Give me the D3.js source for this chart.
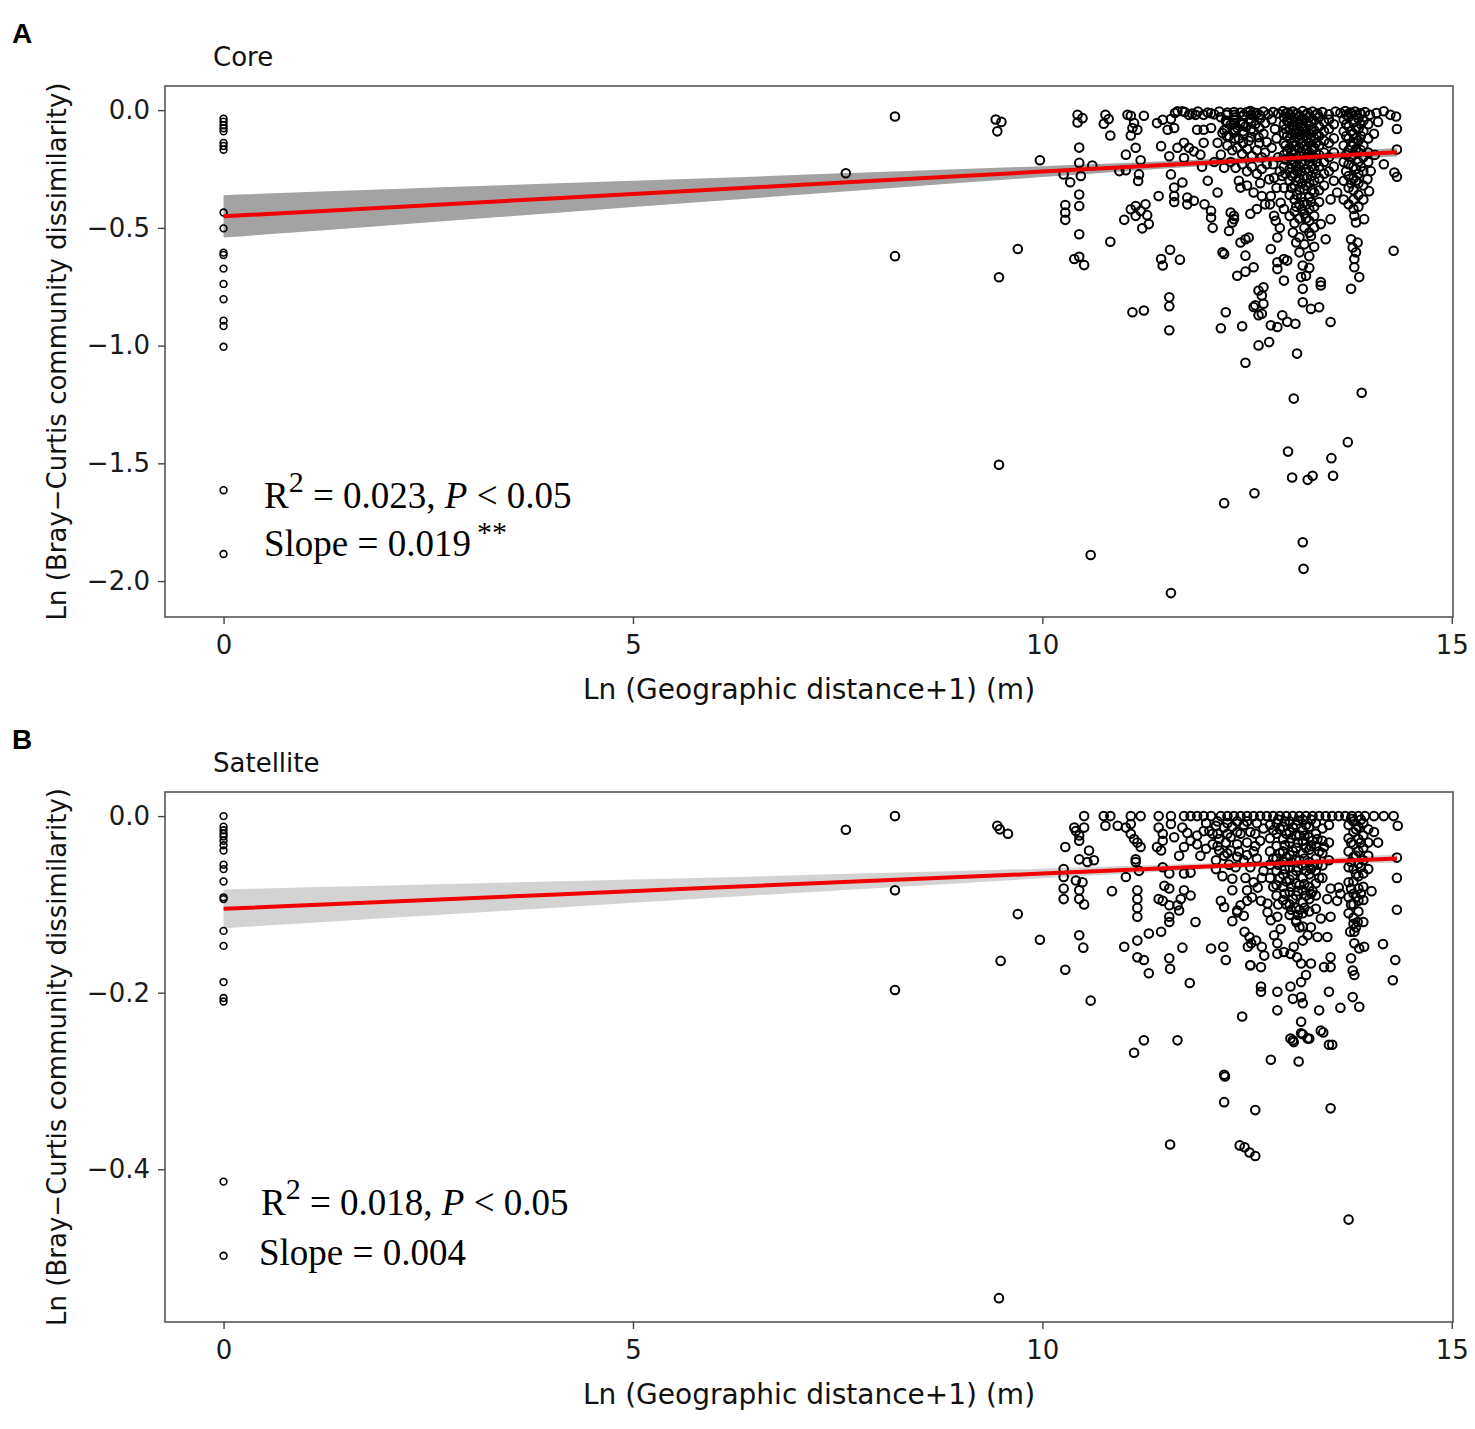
<!DOCTYPE html>
<html>
<head>
<meta charset="utf-8">
<script src="https://cdn.jsdelivr.net/npm/d3@7"></script>
<style>
  body { margin: 0; background: #fff; }
  svg { display: block; }
</style>
</head>
<body>
<div id="chart"></div>
<script>
// axis ticks
const xTicks = [0, 5, 10, 15];
const coreYTicks = [0, -0.5, -1.0, -1.5, -2.0];
const satYTicks = [0, -0.2, -0.4];

// fitted line + confidence band
const fitX = [0, 2, 4, 6, 8, 10, 12, 14.33];
const coreFit = [-0.451, -0.413, -0.375, -0.337, -0.299, -0.261, -0.223, -0.179];
const coreLower = [-0.541, -0.490, -0.438, -0.386, -0.335, -0.284, -0.237, -0.197];
const coreUpper = [-0.361, -0.336, -0.312, -0.288, -0.263, -0.238, -0.209, -0.161];
const satFit = [-0.105, -0.097, -0.089, -0.081, -0.073, -0.065, -0.057, -0.048];
const satLower = [-0.127, -0.1155, -0.104, -0.0925, -0.0815, -0.0705, -0.0605, -0.0525];
const satUpper = [-0.083, -0.0785, -0.074, -0.0695, -0.0645, -0.0595, -0.0535, -0.0435];

// Core: [ln distance, ln dissimilarity]
const corePoints = [
  [0,-0.036],[0,-0.049],[0,-0.064],[0,-0.077],[0,-0.090],[0,-0.139],[0,-0.152],[0,-0.168],
  [0,-0.435],[0,-0.502],[0,-0.605],[0,-0.615],[0,-0.673],[0,-0.738],[0,-0.803],[0,-0.894],
  [0,-0.917],[0,-1.005],[0,-1.614],[0,-1.885],
  [7.6,-0.268],[8.2,-0.027],[8.2,-0.62],
  [9.43,-0.04],[9.5,-0.05],[9.45,-0.09],[9.47,-0.71],[9.47,-1.506],[9.7,-0.59],[9.97,-0.213],
  [10.43,-0.02],[10.49,-0.034],[10.43,-0.052],[10.45,-0.159],[10.45,-0.224],[10.26,-0.273],[10.34,-0.306],
  [10.47,-0.28],[10.61,-0.235],[10.45,-0.358],[10.45,-0.407],[10.28,-0.403],[10.28,-0.435],[10.28,-0.466],
  [10.45,-0.527],[10.39,-0.632],[10.45,-0.623],[10.51,-0.658],[10.83,-0.559],[10.59,-1.889],
  [10.77,-0.02],[10.81,-0.038],[10.75,-0.058],[10.83,-0.108],
  [11.04,-0.02],[11.08,-0.024],[11.24,-0.024],[11.12,-0.055],[11.16,-0.083],[11.08,-0.108],[11.1,-0.076],
  [11.14,-0.16],[11.02,-0.189],[11.2,-0.213],[10.94,-0.259],[11.02,-0.255],[11.18,-0.273],[11.17,-0.301],
  [11.0,-0.466],[11.08,-0.421],[11.14,-0.407],[11.2,-0.428],[11.26,-0.4],[11.28,-0.446],[11.3,-0.484],
  [11.22,-0.502],[11.14,-0.449],[11.1,-0.858],[11.24,-0.851],
  [11.55,-0.795],[11.55,-0.833],[11.55,-0.935],[11.45,-0.632],[11.47,-0.66],[11.56,-0.593],[11.68,-0.635],
  [11.42,-0.365],[11.57,-0.273],[11.45,-0.153],[11.4,-0.055],[11.47,-0.041],[11.57,-0.038],[11.61,-0.076],
  [11.53,-0.083],[11.55,-0.196],[11.61,-0.329],[11.61,-0.365],[11.71,-0.307],[11.61,-0.39],[11.77,-0.371],
  [11.85,-0.385],[11.77,-0.4],[11.57,-2.051],
  [11.65,-0.005],[11.71,-0.005],[11.79,-0.02],[11.87,-0.02],[11.97,-0.02],[12.06,-0.013],[11.65,-0.16],
  [11.73,-0.139],[11.79,-0.16],[11.73,-0.203],[11.85,-0.175],[11.93,-0.189],[11.97,-0.139],[11.89,-0.083],
  [11.97,-0.083],[12.06,-0.076],
  [11.95,-0.24],[12.02,-0.3],[12.1,-0.22],[12.14,-0.35],[11.98,-0.4],[12.08,-0.5],
  [12.06,-0.456],[12.06,-0.428],[12.2,-0.604],[12.22,-0.611],[12.24,-0.858],[12.18,-0.926],[12.44,-0.918],
  [12.28,-0.513],[12.3,-0.435],[12.34,-0.463],[12.42,-0.562],[12.48,-0.548],[12.52,-0.541],[12.48,-0.618],
  [12.38,-0.703],[12.48,-0.686],[12.58,-0.667],[12.64,-0.766],[12.58,-0.836],[12.64,-0.871],[12.64,-0.999],
  [12.14,-0.139],[12.18,-0.189],[12.22,-0.245],[12.2,-0.097],[12.26,-0.055],[12.34,-0.041],[12.38,-0.076],
  [12.26,-0.01],[12.34,-0.008],[12.42,-0.01],[12.5,-0.008],[12.58,-0.01],[12.34,-0.449],[12.32,-0.477],
  [12.42,-0.329],[12.22,-1.669],[12.48,-1.073],[12.59,-1.627],
  [12.7,-0.752],[12.68,-0.787],[12.6,-0.829],[12.7,-0.822],[12.68,-0.865],[12.79,-0.914],[12.87,-0.921],
  [12.93,-0.871],[12.99,-0.899],[13.09,-0.907],[12.77,-0.985],[13.11,-1.034],[13.18,-0.816],[13.28,-0.844],
  [13.38,-0.837],[13.52,-0.9],[13.4,-0.73],[13.4,-0.745],[13.18,-0.759],[12.95,-0.724],[12.87,-0.675],
  [12.87,-0.646],[12.95,-0.632],[12.99,-0.639],[12.79,-0.59],[12.87,-0.541],[13.14,-0.604],[13.18,-0.66],
  [13.22,-0.703],[13.16,-0.709],[13.06,-0.52],[13.1,-0.562],[13.28,-0.534],[13.32,-0.498],[13.4,-0.484],
  [13.46,-0.548],[13.52,-0.463],[13.52,-0.379],[13.6,-0.35],[12.83,-0.449],[12.85,-0.47],[12.91,-0.393],
  [12.79,-0.365],[12.68,-0.365],[12.93,-0.28],[12.83,-0.287],[12.77,-0.294],
  [13.81,-0.449],[13.83,-0.477],[13.93,-0.463],[13.77,-0.548],[13.85,-0.562],[13.79,-0.583],[13.83,-0.604],
  [13.81,-0.632],[13.81,-0.667],[13.87,-0.709],[13.77,-0.759],[13.99,-0.344],[13.97,-0.294],[14.01,-0.259],
  [14.17,-0.005],[14.25,-0.02],[14.32,-0.027],[14.33,-0.08],[14.33,-0.167],[14.17,-0.23],[14.3,-0.265],
  [14.33,-0.283],[14.29,-0.597],
  [13.07,-1.225],[13.9,-1.2],[13.73,-1.41],[13.0,-1.45],[13.53,-1.478],[13.05,-1.56],[13.24,-1.57],
  [13.3,-1.553],[13.55,-1.553],[13.18,-1.835],[13.19,-1.948],
  // top row
  [11.62,-0.012],[11.74,-0.008],[11.83,-0.015],[11.9,-0.006],[12.02,-0.01],[12.1,-0.018],[12.16,-0.006],
  [12.46,-0.02],[12.54,-0.004],[12.62,-0.012],[12.7,-0.006],[12.76,-0.018],[12.82,-0.008],[12.88,-0.014],
  [12.94,-0.004],[13.0,-0.01],[13.06,-0.006],[13.12,-0.016],[13.18,-0.004],[13.24,-0.012],[13.3,-0.006],
  [13.36,-0.014],[13.42,-0.008],[13.5,-0.018],[13.58,-0.006],[13.64,-0.012],[13.7,-0.004],[13.76,-0.01],
  [13.82,-0.006],[13.88,-0.014],[13.94,-0.008],[14.0,-0.02],[14.08,-0.012],
  // dense block around 12.2-12.75
  [12.18,-0.03],[12.24,-0.045],[12.3,-0.062],[12.36,-0.03],[12.42,-0.052],[12.48,-0.07],[12.54,-0.038],
  [12.6,-0.06],[12.66,-0.035],[12.72,-0.055],[12.22,-0.085],[12.28,-0.11],[12.34,-0.095],[12.4,-0.12],
  [12.46,-0.1],[12.52,-0.13],[12.58,-0.09],[12.64,-0.115],[12.7,-0.1],[12.74,-0.135],[12.26,-0.15],
  [12.32,-0.17],[12.38,-0.16],[12.44,-0.185],[12.5,-0.165],[12.56,-0.195],[12.62,-0.17],[12.68,-0.2],
  [12.72,-0.18],[12.3,-0.22],[12.36,-0.245],[12.44,-0.23],[12.5,-0.26],[12.56,-0.24],[12.62,-0.27],
  [12.68,-0.25],[12.74,-0.23],[12.4,-0.3],[12.5,-0.32],[12.58,-0.35],[12.66,-0.31],[12.72,-0.4],
  [12.62,-0.42],[12.54,-0.44],
  [12.25,-0.02],[12.25,-0.05],[12.25,-0.08],[12.25,-0.11],[12.35,-0.02],[12.35,-0.055],[12.35,-0.085],
  [12.35,-0.12],[12.45,-0.025],[12.45,-0.06],[12.45,-0.09],[12.45,-0.14],[12.55,-0.02],[12.55,-0.05],
  [12.55,-0.08],[12.55,-0.115],[12.65,-0.02],[12.65,-0.075],[12.65,-0.14],
  [12.8,-0.04],[12.84,-0.08],[12.86,-0.12],[12.8,-0.16],[12.88,-0.2],[12.82,-0.23],[12.9,-0.26],
  [12.86,-0.33],[12.78,-0.4],[12.9,-0.5],
  // darkest block around 12.95-13.55
  [12.95,-0.03],[12.95,-0.06],[12.95,-0.1],[12.95,-0.14],[12.95,-0.19],[12.95,-0.24],[12.95,-0.33],[12.95,-0.42],
  [13.02,-0.02],[13.02,-0.05],[13.02,-0.08],[13.02,-0.12],[13.02,-0.16],[13.02,-0.2],[13.02,-0.25],[13.02,-0.3],
  [13.02,-0.36],[13.02,-0.45],
  [13.08,-0.035],[13.08,-0.07],[13.08,-0.1],[13.08,-0.135],[13.08,-0.17],[13.08,-0.22],[13.08,-0.27],
  [13.08,-0.32],[13.08,-0.38],[13.08,-0.43],[13.08,-0.48],
  [13.14,-0.025],[13.14,-0.055],[13.14,-0.09],[13.14,-0.125],[13.14,-0.16],[13.14,-0.195],[13.14,-0.24],
  [13.14,-0.29],[13.14,-0.34],[13.14,-0.4],[13.14,-0.46],[13.14,-0.54],
  [13.2,-0.04],[13.2,-0.075],[13.2,-0.11],[13.2,-0.15],[13.2,-0.185],[13.2,-0.23],[13.2,-0.28],[13.2,-0.335],
  [13.2,-0.39],[13.2,-0.44],[13.2,-0.5],[13.2,-0.57],
  [13.26,-0.03],[13.26,-0.065],[13.26,-0.1],[13.26,-0.14],[13.26,-0.18],[13.26,-0.22],[13.26,-0.26],
  [13.26,-0.31],[13.26,-0.37],[13.26,-0.42],[13.26,-0.47],[13.26,-0.52],[13.26,-0.62],[13.26,-0.67],
  [13.32,-0.045],[13.32,-0.085],[13.32,-0.12],[13.32,-0.16],[13.32,-0.2],[13.32,-0.25],[13.32,-0.3],
  [13.32,-0.35],[13.32,-0.41],[13.32,-0.45],[13.32,-0.58],
  [13.38,-0.03],[13.38,-0.07],[13.38,-0.11],[13.38,-0.15],[13.38,-0.19],[13.38,-0.24],[13.38,-0.29],
  [13.38,-0.34],[13.38,-0.39],
  [13.44,-0.05],[13.44,-0.09],[13.44,-0.13],[13.44,-0.18],[13.44,-0.22],[13.44,-0.27],[13.44,-0.32],
  [13.5,-0.04],[13.5,-0.08],[13.5,-0.14],[13.5,-0.2],[13.5,-0.26],
  [13.56,-0.06],[13.56,-0.12],[13.56,-0.18],[13.56,-0.24],[13.56,-0.3],
  [12.99,-0.045],[12.99,-0.11],[12.99,-0.175],[13.05,-0.065],[13.05,-0.14],[13.05,-0.21],[13.05,-0.28],
  [13.11,-0.05],[13.11,-0.115],[13.11,-0.2],[13.11,-0.26],[13.11,-0.36],[13.17,-0.07],[13.17,-0.14],
  [13.17,-0.22],[13.17,-0.31],[13.17,-0.42],[13.23,-0.05],[13.23,-0.12],[13.23,-0.2],[13.23,-0.29],
  [13.23,-0.4],[13.29,-0.08],[13.29,-0.16],[13.29,-0.24],[13.29,-0.34],[13.35,-0.1],[13.35,-0.22],
  [12.97,-0.015],[12.97,-0.08],[12.97,-0.15],[12.97,-0.21],[12.97,-0.27],
  [13.04,-0.035],[13.04,-0.1],[13.04,-0.18],[13.04,-0.23],[13.04,-0.33],
  [13.1,-0.015],[13.1,-0.085],[13.1,-0.15],[13.1,-0.24],[13.1,-0.3],[13.1,-0.41],
  [13.16,-0.04],[13.16,-0.105],[13.16,-0.18],[13.16,-0.26],[13.16,-0.37],
  [13.22,-0.02],[13.22,-0.09],[13.22,-0.165],[13.22,-0.25],[13.22,-0.32],[13.22,-0.46],
  [13.28,-0.05],[13.28,-0.12],[13.28,-0.2],[13.28,-0.28],[13.28,-0.39],
  [13.34,-0.02],[13.34,-0.14],[13.34,-0.27],
  // block around 13.7-14.0
  [13.68,-0.04],[13.68,-0.09],[13.68,-0.15],[13.68,-0.22],[13.68,-0.3],[13.68,-0.38],
  [13.74,-0.03],[13.74,-0.07],[13.74,-0.12],[13.74,-0.17],[13.74,-0.23],[13.74,-0.28],[13.74,-0.33],[13.74,-0.4],
  [13.8,-0.05],[13.8,-0.1],[13.8,-0.14],[13.8,-0.19],[13.8,-0.24],[13.8,-0.29],[13.8,-0.34],[13.8,-0.38],[13.8,-0.42],
  [13.86,-0.035],[13.86,-0.08],[13.86,-0.13],[13.86,-0.18],[13.86,-0.22],[13.86,-0.27],[13.86,-0.31],
  [13.86,-0.36],[13.86,-0.41],
  [13.92,-0.045],[13.92,-0.09],[13.92,-0.15],[13.92,-0.2],[13.92,-0.26],[13.92,-0.32],[13.92,-0.38],
  [13.98,-0.06],[13.98,-0.12],[13.98,-0.18],[13.98,-0.22],
  [13.71,-0.02],[13.71,-0.06],[13.71,-0.11],[13.71,-0.19],[13.71,-0.26],
  [13.77,-0.015],[13.77,-0.09],[13.77,-0.15],[13.77,-0.2],[13.77,-0.31],
  [13.83,-0.02],[13.83,-0.075],[13.83,-0.12],[13.83,-0.165],[13.83,-0.25],[13.83,-0.3],
  [13.89,-0.015],[13.89,-0.06],[13.89,-0.11],[13.89,-0.17],[13.89,-0.24],
  [14.05,-0.1],[14.1,-0.05],[14.06,-0.19]
];

// Satellite: [ln distance, ln dissimilarity]
const satellitePoints = [
  [0,0.0],[0,-0.012],[0,-0.016],[0,-0.020],[0,-0.023],[0,-0.028],[0,-0.033],[0,-0.039],[0,-0.055],
  [0,-0.060],[0,-0.074],[0,-0.092],[0,-0.094],[0,-0.130],[0,-0.147],[0,-0.188],[0,-0.206],[0,-0.210],
  [0,-0.414],[0,-0.498],
  [7.6,-0.0155],[8.2,0.0],[8.2,-0.084],[8.2,-0.197],
  [9.45,-0.011],[9.48,-0.015],[9.58,-0.02],[9.7,-0.111],[9.97,-0.14],[9.49,-0.164],[10.28,-0.174],
  [10.59,-0.209],[9.47,-0.546],
  [10.51,0],[10.75,0],[10.83,0],[11.08,0],[11.2,0],[11.42,0],[11.57,0],[11.73,0],[11.81,0],[11.89,0],
  [11.97,0],[12.06,0],[12.18,0],[12.26,0],[12.34,0],[12.42,0],[12.5,0],[12.58,0],[12.66,0],[12.74,0],
  [12.82,0],[12.9,0],[12.98,0],[13.06,0],[13.14,0],[13.22,0],[13.3,0],[13.38,0],[13.46,0],[13.54,0],
  [13.62,0],[13.7,0],[13.78,0],[13.86,0],[13.94,0],[14.05,0],[14.17,0],[14.29,0],
  [10.39,-0.013],[10.41,-0.017],[10.51,-0.013],[10.45,-0.022],[10.45,-0.028],[10.28,-0.035],
  [10.45,-0.049],[10.57,-0.039],[10.55,-0.052],[10.63,-0.05],
  [10.26,-0.06],[10.26,-0.069],[10.26,-0.082],[10.26,-0.094],
  [10.41,-0.073],[10.49,-0.075],[10.45,-0.084],[10.45,-0.094],[10.51,-0.1],[10.45,-0.135],[10.5,-0.149],
  [10.77,-0.011],[10.92,-0.011],[11.02,-0.013],[11.08,-0.02],[11.12,-0.026],[11.16,-0.03],[11.2,-0.035],
  [11.08,-0.009],[11.14,-0.049],[11.14,-0.052],[11.02,-0.069],[11.18,-0.062],[10.85,-0.085],
  [11.16,-0.084],[11.16,-0.094],[11.16,-0.104],[11.16,-0.114],
  [11.0,-0.148],[11.16,-0.141],[11.16,-0.16],[11.24,-0.163],[11.3,-0.178],[11.3,-0.133],[11.45,-0.131],
  [11.55,-0.161],[11.56,-0.173],[11.71,-0.149],[11.8,-0.189],[11.12,-0.268],[11.24,-0.254],[11.65,-0.254],
  [11.42,-0.013],[11.47,-0.02],[11.47,-0.028],[11.4,-0.035],[11.45,-0.039],
  [11.57,-0.009],[11.61,-0.024],[11.71,-0.013],[11.77,-0.019],[11.73,-0.035],[11.67,-0.045],[11.81,-0.028],
  [11.89,-0.022],[11.97,-0.017],[11.47,-0.058],[11.55,-0.065],[11.73,-0.065],[11.81,-0.064],[11.49,-0.079],
  [11.55,-0.082],[11.42,-0.094],[11.47,-0.096],[11.55,-0.101],[11.65,-0.101],[11.67,-0.107],[11.73,-0.084],
  [11.81,-0.09],[11.69,-0.094],[11.55,-0.114],[11.55,-0.12],[11.87,-0.12],
  [12.06,-0.15],[12.21,-0.148],[12.24,-0.163],[12.18,-0.096],[12.22,-0.103],[12.32,-0.071],[12.32,-0.084],
  [12.32,-0.119],[12.38,-0.109],[12.44,-0.227],[12.54,-0.169],
  [12.08,-0.032],[12.16,-0.039],[12.22,-0.045],[12.3,-0.039],[12.38,-0.032],[12.3,-0.024],[12.42,-0.02],
  [11.93,-0.045],[12.0,-0.037],[11.89,-0.032],[12.04,-0.017],[12.12,-0.011],[12.22,-0.013],
  [12.0,-0.008],[12.08,-0.02],[12.16,-0.026],[12.24,-0.03],[12.32,-0.012],[12.4,-0.04],[12.12,-0.05],[12.36,-0.058],
  [11.56,-0.372],[12.22,-0.293],[12.23,-0.295],[12.22,-0.324],[12.6,-0.333],[12.41,-0.373],[12.47,-0.375],
  [12.53,-0.381],[12.6,-0.385],[12.79,-0.276],[13.06,-0.254],[13.07,-0.256],[13.18,-0.247],[13.26,-0.252],
  [13.13,-0.278],[13.43,-0.245],[13.54,-0.259],[13.52,-0.331],[13.74,-0.457],
  [14.34,-0.011],[14.33,-0.047],[14.33,-0.07],[14.33,-0.106],[14.16,-0.145],[14.31,-0.163],[14.28,-0.186],
  [12.67,-0.193],[12.67,-0.199],[12.87,-0.199],[12.87,-0.22],[13.03,-0.193],[13.06,-0.207],[13.16,-0.205],
  [13.18,-0.212],[13.16,-0.188],[13.38,-0.22],[13.5,-0.199],[13.64,-0.217],[13.79,-0.205],[13.87,-0.216],
  [13.16,-0.233],[13.03,-0.252],[13.16,-0.246],[13.24,-0.252],[13.4,-0.243],[13.5,-0.259],
  [12.54,-0.169],[12.67,-0.171],[12.71,-0.158],[12.87,-0.156],[12.95,-0.154],
  [13.22,-0.18],[13.28,-0.167],[13.44,-0.171],[13.52,-0.16],[13.52,-0.171],
  [13.77,-0.161],[13.79,-0.175],[13.81,-0.18],[13.81,-0.144],[13.87,-0.15],[13.93,-0.148],
  [13.8,-0.122],[13.83,-0.126],[13.81,-0.131],[13.85,-0.12],[13.92,-0.12],[13.76,-0.131],
  [12.47,-0.131],[12.53,-0.137],[12.55,-0.144],[12.61,-0.141],[12.51,-0.148],[12.68,-0.148],
  [13.03,-0.156],[13.11,-0.16],[13.16,-0.167],[13.07,-0.148],[13.18,-0.141],[13.14,-0.126],[13.1,-0.12],
  [13.24,-0.135],[13.28,-0.126],[13.36,-0.137],[13.48,-0.137],[13.4,-0.116],[13.52,-0.114],
  [12.83,-0.135],[12.87,-0.144],[12.91,-0.128],[12.79,-0.118],[12.75,-0.109],[12.87,-0.114],
  [12.38,-0.107],[12.46,-0.113],[12.42,-0.101],[12.5,-0.096],[12.56,-0.092],[12.67,-0.096],[12.75,-0.099],
  [12.5,-0.084],[12.63,-0.081],
  [13.48,-0.094],[13.6,-0.096],[13.64,-0.088],[13.52,-0.082],[13.62,-0.081],
  // dense block 12.45-12.7
  [12.46,-0.01],[12.54,-0.018],[12.62,-0.008],[12.7,-0.014],[12.5,-0.03],[12.58,-0.04],[12.66,-0.028],
  [12.46,-0.05],[12.54,-0.058],[12.62,-0.048],[12.7,-0.062],[12.48,-0.07],[12.58,-0.075],[12.68,-0.07],
  [12.12,-0.06],[12.2,-0.068],[12.28,-0.055],
  [12.14,-0.006],[12.14,-0.02],[12.14,-0.034],[12.26,-0.008],[12.26,-0.02],[12.26,-0.042],
  [12.38,-0.006],[12.38,-0.018],[12.38,-0.046],[12.5,-0.006],[12.5,-0.044],[12.6,-0.02],[12.6,-0.034],
  // darkest block 12.78-13.5
  [12.78,-0.01],[12.78,-0.025],[12.78,-0.04],[12.78,-0.055],[12.78,-0.07],
  [12.86,-0.008],[12.86,-0.02],[12.86,-0.034],[12.86,-0.048],[12.86,-0.062],[12.86,-0.078],[12.86,-0.09],
  [12.94,-0.012],[12.94,-0.026],[12.94,-0.04],[12.94,-0.052],[12.94,-0.066],[12.94,-0.08],[12.94,-0.095],
  [13.02,-0.006],[13.02,-0.018],[13.02,-0.03],[13.02,-0.044],[13.02,-0.058],[13.02,-0.072],[13.02,-0.086],
  [13.02,-0.1],[13.02,-0.112],
  [13.1,-0.01],[13.1,-0.022],[13.1,-0.036],[13.1,-0.05],[13.1,-0.062],[13.1,-0.076],[13.1,-0.09],
  [13.1,-0.104],[13.1,-0.118],
  [13.18,-0.004],[13.18,-0.016],[13.18,-0.028],[13.18,-0.042],[13.18,-0.056],[13.18,-0.07],[13.18,-0.084],
  [13.18,-0.098],[13.18,-0.11],[13.18,-0.125],
  [13.26,-0.012],[13.26,-0.024],[13.26,-0.038],[13.26,-0.052],[13.26,-0.066],[13.26,-0.08],[13.26,-0.094],
  [13.26,-0.108],
  [13.34,-0.008],[13.34,-0.02],[13.34,-0.034],[13.34,-0.048],[13.34,-0.062],[13.34,-0.076],[13.34,-0.09],
  [13.34,-0.105],
  [13.42,-0.014],[13.42,-0.028],[13.42,-0.042],[13.42,-0.056],[13.42,-0.07],
  [13.5,-0.01],[13.5,-0.03],[13.5,-0.05],
  [12.9,-0.015],[12.9,-0.042],[12.9,-0.07],[12.98,-0.02],[12.98,-0.047],[12.98,-0.074],[12.98,-0.1],
  [13.06,-0.013],[13.06,-0.04],[13.06,-0.067],[13.06,-0.094],[13.14,-0.022],[13.14,-0.05],[13.14,-0.078],
  [13.14,-0.106],[13.22,-0.01],[13.22,-0.036],[13.22,-0.062],[13.22,-0.09],[13.3,-0.028],[13.3,-0.056],
  [13.3,-0.085],[13.38,-0.04],[13.38,-0.07],
  [12.82,-0.016],[12.82,-0.048],[12.82,-0.08],[12.88,-0.004],[12.88,-0.055],[12.88,-0.1],
  [12.96,-0.006],[12.96,-0.033],[12.96,-0.06],[12.96,-0.088],[13.04,-0.025],[13.04,-0.052],[13.04,-0.08],
  [13.04,-0.106],[13.12,-0.005],[13.12,-0.03],[13.12,-0.058],[13.12,-0.085],[13.12,-0.112],
  [13.2,-0.022],[13.2,-0.048],[13.2,-0.077],[13.2,-0.104],[13.28,-0.004],[13.28,-0.034],[13.28,-0.06],
  [13.28,-0.088],[13.36,-0.026],[13.36,-0.055],[13.44,-0.035],
  // block 13.7-14.0
  [13.74,-0.01],[13.74,-0.025],[13.74,-0.04],[13.74,-0.058],[13.74,-0.075],[13.74,-0.092],[13.74,-0.11],
  [13.8,-0.006],[13.8,-0.018],[13.8,-0.032],[13.8,-0.046],[13.8,-0.06],[13.8,-0.074],[13.8,-0.088],
  [13.8,-0.1],[13.8,-0.115],
  [13.86,-0.012],[13.86,-0.026],[13.86,-0.04],[13.86,-0.054],[13.86,-0.068],[13.86,-0.082],[13.86,-0.096],
  [13.86,-0.108],
  [13.92,-0.008],[13.92,-0.022],[13.92,-0.036],[13.92,-0.05],[13.92,-0.065],[13.92,-0.08],[13.92,-0.095],
  [13.98,-0.015],[13.98,-0.03],[13.98,-0.045],[13.98,-0.06],
  [13.77,-0.003],[13.77,-0.03],[13.77,-0.052],[13.77,-0.082],[13.77,-0.1],
  [13.83,-0.015],[13.83,-0.045],[13.83,-0.066],[13.83,-0.092],
  [13.89,-0.004],[13.89,-0.03],[13.89,-0.058],[13.89,-0.088],
  [14.05,-0.018],[14.1,-0.03],[14.02,-0.085]
];

const SANS = 'DejaVu Sans, Liberation Sans, sans-serif';
const SERIF = 'Liberation Serif, Times New Roman, serif';

const svg = d3.select('#chart').append('svg')
  .attr('width', 1475)
  .attr('height', 1429);

const left = 165, right = 1453;

const x = d3.scaleLinear().domain([-0.715, 15.015]).range([left, right]);

function drawPanel(opts) {
  const { top, bottom, yDomain, yTicks, points, fit, lower, upper, bandColor,
          letter, title, r2Text, slopeText, slopeStars, annX, annY } = opts;

  const y = d3.scaleLinear().domain(yDomain).range([bottom, top]);
  const g = svg.append('g');

  // panel letter + title
  g.append('text')
    .attr('x', 12).attr('y', top - 43)
    .attr('font-family', 'Liberation Sans, Arial, sans-serif')
    .attr('font-weight', 'bold')
    .attr('font-size', 28)
    .text(letter);

  g.append('text')
    .attr('x', 213).attr('y', top - 20)
    .attr('font-family', SANS)
    .attr('font-size', 26)
    .attr('fill', '#111')
    .text(title);

  // confidence band
  const band = fitX.map((d, i) => ({ x: d, lo: lower[i], hi: upper[i], f: fit[i] }));
  g.append('path')
    .datum(band)
    .attr('fill', bandColor)
    .attr('d', d3.area().x(d => x(d.x)).y0(d => y(d.lo)).y1(d => y(d.hi)).curve(d3.curveMonotoneX));

  // points
  g.append('g')
    .selectAll('circle')
    .data(points)
    .join('circle')
    .attr('cx', d => x(d[0]))
    .attr('cy', d => y(d[1]))
    .attr('r', d => d[0] < 0.5 ? 3.4 : 4.3)
    .attr('fill', 'none')
    .attr('stroke', '#000')
    .attr('stroke-width', d => d[0] < 0.5 ? 1.6 : 2);

  // fitted line
  g.append('path')
    .datum(band)
    .attr('fill', 'none')
    .attr('stroke', '#f20000')
    .attr('stroke-width', 4)
    .attr('d', d3.line().x(d => x(d.x)).y(d => y(d.f)));

  // frame
  g.append('rect')
    .attr('x', left).attr('y', top)
    .attr('width', right - left).attr('height', bottom - top)
    .attr('fill', 'none')
    .attr('stroke', '#555')
    .attr('stroke-width', 1.6);

  // y axis
  const yAxis = g.append('g')
    .attr('transform', `translate(${left},0)`)
    .call(d3.axisLeft(y).tickValues(yTicks).tickFormat(d3.format('.1f')).tickSize(7).tickPadding(8));
  yAxis.select('.domain').remove();
  yAxis.selectAll('.tick line').attr('stroke', '#444').attr('stroke-width', 1.4);
  yAxis.selectAll('.tick text')
    .attr('font-family', SANS).attr('font-size', 26).attr('fill', '#1a1a1a');

  // x axis
  const xAxis = g.append('g')
    .attr('transform', `translate(0,${bottom})`)
    .call(d3.axisBottom(x).tickValues(xTicks).tickFormat(d3.format('d')).tickSize(7).tickPadding(12));
  xAxis.select('.domain').remove();
  xAxis.selectAll('.tick line').attr('stroke', '#444').attr('stroke-width', 1.4);
  xAxis.selectAll('.tick text')
    .attr('font-family', SANS).attr('font-size', 26).attr('fill', '#1a1a1a');

  // axis titles
  g.append('text')
    .attr('x', 809).attr('y', bottom + 82)
    .attr('text-anchor', 'middle')
    .attr('font-family', SANS).attr('font-size', 28).attr('fill', '#111')
    .text('Ln (Geographic distance+1) (m)');

  g.append('text')
    .attr('transform', `translate(66,${(top + bottom) / 2}) rotate(-90)`)
    .attr('text-anchor', 'middle')
    .attr('font-family', SANS).attr('font-size', 26).attr('fill', '#111')
    .text('Ln (Bray\u2212Curtis community dissimilarity)');

  // regression annotation
  const r2 = g.append('text')
    .attr('x', annX[0]).attr('y', annY[0])
    .attr('font-family', SERIF).attr('font-size', 37);
  r2.append('tspan').text('R');
  r2.append('tspan').attr('font-size', 30).attr('dy', -16).text('2');
  r2.append('tspan').attr('dy', 16).text(` = ${r2Text}, `);
  r2.append('tspan').attr('font-style', 'italic').text('P');
  r2.append('tspan').text(' < 0.05');

  const sl = g.append('text')
    .attr('x', annX[1]).attr('y', annY[1])
    .attr('font-family', SERIF).attr('font-size', 37);
  sl.append('tspan').text(`Slope = ${slopeText}`);
  if (slopeStars) {
    sl.append('tspan').attr('font-size', 30).attr('dy', -14).attr('dx', 6).text(slopeStars);
  }
}

drawPanel({
  top: 86, bottom: 617,
  yDomain: [-2.1525, 0.1025], yTicks: coreYTicks,
  points: corePoints,
  fit: coreFit, lower: coreLower, upper: coreUpper, bandColor: '#a3a3a3',
  letter: 'A', title: 'Core',
  r2Text: '0.023', slopeText: '0.019', slopeStars: '**',
  annX: [264, 264], annY: [508, 556]
});

drawPanel({
  top: 792, bottom: 1322,
  yDomain: [-0.573, 0.0273], yTicks: satYTicks,
  points: satellitePoints,
  fit: satFit, lower: satLower, upper: satUpper, bandColor: '#d3d3d3',
  letter: 'B', title: 'Satellite',
  r2Text: '0.018', slopeText: '0.004', slopeStars: null,
  annX: [261, 259], annY: [1215, 1265]
});
</script>
</body>
</html>
